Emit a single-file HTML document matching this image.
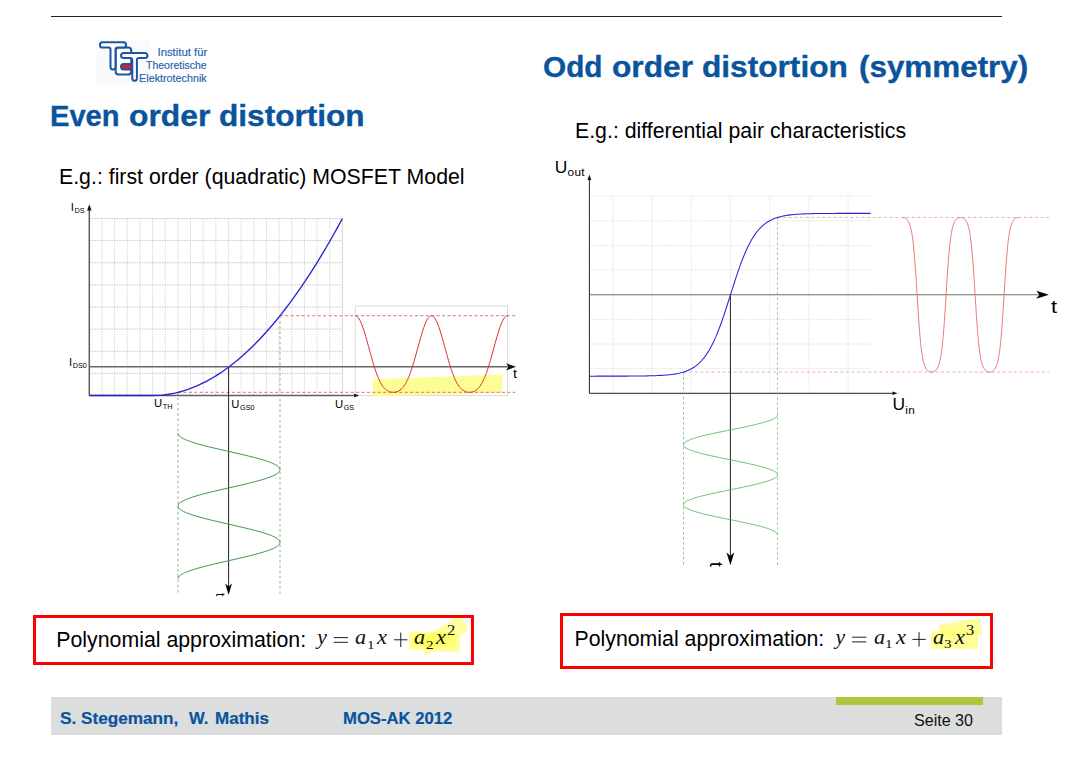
<!DOCTYPE html>
<html lang="en">
<head>
<meta charset="utf-8">
<title>Even / Odd order distortion</title>
<style>
html,body{margin:0;padding:0;background:#fff;}
body{width:1084px;height:763px;position:relative;overflow:hidden;font-family:"Liberation Sans",sans-serif;color:#000;font-variant-ligatures:none;}
.abs{position:absolute;white-space:nowrap;line-height:1;}
.topline{left:51px;top:15.5px;width:951px;height:1.3px;background:#222;}
.h1{font-weight:bold;color:#0a549e;-webkit-text-stroke:0.35px #0a549e;}
.sub{color:#000;}
.lbl{font-size:11.3px;color:#000;}
.lbl sub{font-size:7.3px;vertical-align:baseline;position:relative;top:2px;line-height:0;margin-left:0.6px;}
.lblr{font-size:17.4px;color:#000;}
.lblr sub{font-size:11.8px;vertical-align:baseline;position:relative;top:3.2px;line-height:0;letter-spacing:0.35px;margin-left:0.3px;}
.box{border:3px solid #f00;box-sizing:border-box;background:#fff;}
.poly{color:#000;}
.m{font-family:"Liberation Serif",serif;color:#111;}
.math{font-family:"Liberation Serif",serif;font-style:italic;font-size:23.5px;color:#111;}
.math .n{font-style:normal;}
.math sub{font-style:normal;font-size:15px;vertical-align:baseline;position:relative;top:3.6px;line-height:0;}
.math sup{font-style:normal;font-size:15px;vertical-align:baseline;position:relative;top:-9px;line-height:0;}
.footer{left:51px;top:697px;width:951px;height:37.5px;background:#dcdddd;}
.green{left:835.6px;top:697px;width:147.3px;height:7.8px;background:#afc73f;}
.ft{font-weight:bold;color:#0a549e;-webkit-text-stroke:0.2px #0a549e;}
.seite{color:#111;}
.lg{color:#2660ad;font-size:10.3px;-webkit-text-stroke:0.15px #2660ad;}
.logo-t{color:#1f5aa8;font-size:8.6px;text-align:right;line-height:9.6px;width:64px;}
</style>
</head>
<body>
<div class="abs topline"></div>

<!-- logo -->
<svg class="abs" style="left:0;top:0" width="260" height="95" viewBox="0 0 260 95">
<rect x="96" y="40.2" width="54" height="44.4" fill="#faf9fc"/>
<g fill="#fff" stroke="#1d55a3" stroke-width="2" stroke-linejoin="round">
<rect x="115.7" y="47.5" width="15.5" height="27" rx="2.8" ry="2.8"/>
<rect x="121" y="64" width="13" height="5.4" rx="2.7" fill="#e3192b"/>
<path d="M102.6 42.2H123.4A2.7 2.7 0 0 1 123.4 47.6H117.6Q115.5 47.6 115.5 49.7V66.9A2.5 2.5 0 0 1 110.5 66.9V49.7Q110.5 47.6 108.4 47.6H102.6A2.7 2.7 0 0 1 102.6 42.2Z"/>
<path d="M123.6 53H144.9A2.55 2.55 0 0 1 144.9 58.1H139Q136.9 58.1 136.9 60.2V78.5A2.3 2.3 0 0 1 132.3 78.5V60.2Q132.3 58.1 130.2 58.1H123.6A2.55 2.55 0 0 1 123.6 53Z"/>
</g>
</svg>
<div class="abs lg" style="right:876.8px;top:47.68px;transform:scaleX(1.10);transform-origin:100% 0">Institut für</div>
<div class="abs lg" style="right:877px;top:60.68px;transform:scaleX(1.015);transform-origin:100% 0">Theoretische</div>
<div class="abs lg" style="right:877px;top:73.78px;transform:scaleX(1.045);transform-origin:100% 0">Elektrotechnik</div>

<div class="abs h1" id="h1l1" style="left:49.9px;top:102.49px;font-size:28.6px;transform:scaleX(1.0180);transform-origin:0 0;">Even</div>
<div class="abs h1" id="h1l2" style="left:129.2px;top:102.49px;font-size:28.6px;transform:scaleX(1.1140);transform-origin:0 0;">order</div>
<div class="abs h1" id="h1l3" style="left:219.1px;top:102.49px;font-size:28.6px;transform:scaleX(1.1050);transform-origin:0 0;">distortion</div>
<div class="abs h1" id="h1r1" style="left:543.2px;top:53.29px;font-size:28.6px;transform:scaleX(1.0400);transform-origin:0 0;">Odd</div>
<div class="abs h1" id="h1r2" style="left:611.7px;top:53.29px;font-size:28.6px;transform:scaleX(1.1080);transform-origin:0 0;">order</div>
<div class="abs h1" id="h1r3" style="left:701.7px;top:53.29px;font-size:28.6px;transform:scaleX(1.1060);transform-origin:0 0;">distortion</div>
<div class="abs h1" id="h1r4" style="left:858.8px;top:53.29px;font-size:28.6px;transform:scaleX(1.0976);transform-origin:0 0;">(symmetry)</div>
<div class="abs sub" id="subl" style="left:59px;top:166.67px;font-size:21.3px;transform:scaleX(1.0000);transform-origin:0 0;">E.g.: first order (quadratic) MOSFET Model</div>
<div class="abs sub" id="subr" style="left:575px;top:120.87px;font-size:21.3px;transform:scaleX(1.0000);transform-origin:0 0;">E.g.: differential pair characteristics</div>

<svg class="abs" style="left:0;top:0" width="1084" height="763" viewBox="0 0 1084 763">
<path d="M101.95 218.5V395.5M114.61 218.5V395.5M127.26 218.5V395.5M139.92 218.5V395.5M152.57 218.5V395.5M165.23 218.5V395.5M177.88 218.5V395.5M190.54 218.5V395.5M203.19 218.5V395.5M215.85 218.5V395.5M228.5 218.5V395.5M241.16 218.5V395.5M253.81 218.5V395.5M266.47 218.5V395.5M279.12 218.5V395.5M291.78 218.5V395.5M304.43 218.5V395.5M317.09 218.5V395.5M329.74 218.5V395.5" stroke="#c6c6c6" stroke-width="0.75" stroke-dasharray="1.4 1.1" fill="none"/>
<path d="M89.3 218.5H342.4M89.3 240.62H342.4M89.3 262.75H342.4M89.3 284.88H342.4M89.3 307H342.4M89.3 329.12H342.4M89.3 351.25H342.4M89.3 373.38H342.4" stroke="#b4b4b4" stroke-width="0.8" stroke-dasharray="1.4 1.1" fill="none"/>
<path d="M342.4 218.5V395.5" stroke="#d6d6d6" stroke-width="1" fill="none"/>
<rect x="355.3" y="306" width="152.2" height="89.5" fill="none" stroke="#dcdcdc" stroke-width="1"/>
<polygon points="372.8,379.2 502.4,374.4 502.4,392.8 372.8,396.6" fill="#fdfd96"/>
<path d="M89.3 395.5V207" stroke="#5c5c5c" stroke-width="1.5" fill="none"/>
<path d="M89.3 204.2l-2.2 6.3h4.4z" fill="#111"/>
<path d="M89.3 395.5H356" stroke="#606060" stroke-width="1.4" fill="none"/>
<path d="M359.3 395.5l-5.2 -1.9v3.8z" fill="#222"/>
<path d="M89.3 366.81H510" stroke="#666" stroke-width="1.4" fill="none"/>
<path d="M516 366.81l-10 -3.6l2.6 3.6l-2.6 3.6z" fill="#111"/>
<path d="M280 315.74H515.5M178 392.32H515.5" stroke="#e06060" stroke-width="0.9" stroke-dasharray="3 2.4" fill="none"/>
<path d="M178 392.32V594M280 315.74V594" stroke="#7fa87f" stroke-width="0.9" stroke-dasharray="2.6 2.6" fill="none"/>
<path d="M228.6 366.81V589" stroke="#222" stroke-width="1" fill="none"/>
<path d="M228.6 594.9l-3.4 -11.3l3.4 3l3.4 -3z" fill="#000"/>
<path d="M89.3 395.5 L152.57 395.5 L155.74 395.45 L158.9 395.3 L162.07 395.06 L165.23 394.71 L168.39 394.27 L171.56 393.73 L174.72 393.09 L177.88 392.35 L181.05 391.52 L184.21 390.58 L187.38 389.55 L190.54 388.42 L193.7 387.19 L196.87 385.86 L200.03 384.44 L203.19 382.91 L206.36 381.29 L209.52 379.57 L212.69 377.75 L215.85 375.83 L219.01 373.82 L222.18 371.7 L225.34 369.49 L228.5 367.18 L231.67 364.77 L234.83 362.26 L238 359.66 L241.16 356.95 L244.32 354.15 L247.49 351.25 L250.65 348.25 L253.81 345.15 L256.98 341.96 L260.14 338.66 L263.31 335.27 L266.47 331.78 L269.63 328.19 L272.8 324.5 L275.96 320.72 L279.12 316.83 L282.29 312.85 L285.45 308.77 L288.62 304.59 L291.78 300.31 L294.94 295.94 L298.11 291.46 L301.27 286.89 L304.43 282.22 L307.6 277.45 L310.76 272.58 L313.93 267.62 L317.09 262.55 L320.25 257.39 L323.42 252.13 L326.58 246.77 L329.75 241.31 L332.91 235.76 L336.07 230.1 L339.24 224.35 L342.4 218.5" stroke="#2525d6" stroke-width="1.35" fill="none" stroke-linejoin="round"/>
<path d="M355.3 315.74 L356.25 315.94 L357.2 316.53 L358.15 317.5 L359.11 318.84 L360.06 320.53 L361.01 322.55 L361.96 324.87 L362.91 327.47 L363.86 330.3 L364.81 333.35 L365.76 336.55 L366.72 339.89 L367.67 343.31 L368.62 346.79 L369.57 350.28 L370.52 353.76 L371.47 357.17 L372.42 360.51 L373.37 363.73 L374.32 366.81 L375.28 369.74 L376.23 372.49 L377.18 375.05 L378.13 377.42 L379.08 379.59 L380.03 381.56 L380.98 383.33 L381.94 384.9 L382.89 386.29 L383.84 387.5 L384.79 388.54 L385.74 389.43 L386.69 390.17 L387.64 390.78 L388.59 391.28 L389.55 391.67 L390.5 391.96 L391.45 392.17 L392.4 392.29 L393.35 392.32 L394.3 392.29 L395.25 392.17 L396.2 391.96 L397.16 391.67 L398.11 391.28 L399.06 390.78 L400.01 390.17 L400.96 389.43 L401.91 388.54 L402.86 387.5 L403.81 386.29 L404.76 384.9 L405.72 383.33 L406.67 381.56 L407.62 379.59 L408.57 377.42 L409.52 375.05 L410.47 372.49 L411.42 369.74 L412.38 366.81 L413.33 363.73 L414.28 360.51 L415.23 357.17 L416.18 353.76 L417.13 350.28 L418.08 346.79 L419.03 343.31 L419.99 339.89 L420.94 336.55 L421.89 333.35 L422.84 330.3 L423.79 327.47 L424.74 324.87 L425.69 322.55 L426.64 320.53 L427.6 318.84 L428.55 317.5 L429.5 316.53 L430.45 315.94 L431.4 315.74 L432.35 315.94 L433.3 316.53 L434.25 317.5 L435.21 318.84 L436.16 320.53 L437.11 322.55 L438.06 324.87 L439.01 327.47 L439.96 330.3 L440.91 333.35 L441.86 336.55 L442.81 339.89 L443.77 343.31 L444.72 346.79 L445.67 350.28 L446.62 353.76 L447.57 357.17 L448.52 360.51 L449.47 363.73 L450.43 366.81 L451.38 369.74 L452.33 372.49 L453.28 375.05 L454.23 377.42 L455.18 379.59 L456.13 381.56 L457.08 383.33 L458.03 384.9 L458.99 386.29 L459.94 387.5 L460.89 388.54 L461.84 389.43 L462.79 390.17 L463.74 390.78 L464.69 391.28 L465.64 391.67 L466.6 391.96 L467.55 392.17 L468.5 392.29 L469.45 392.32 L470.4 392.29 L471.35 392.17 L472.3 391.96 L473.25 391.67 L474.21 391.28 L475.16 390.78 L476.11 390.17 L477.06 389.43 L478.01 388.54 L478.96 387.5 L479.91 386.29 L480.87 384.9 L481.82 383.33 L482.77 381.56 L483.72 379.59 L484.67 377.42 L485.62 375.05 L486.57 372.49 L487.52 369.74 L488.48 366.81 L489.43 363.73 L490.38 360.51 L491.33 357.17 L492.28 353.76 L493.23 350.28 L494.18 346.79 L495.13 343.31 L496.09 339.89 L497.04 336.55 L497.99 333.35 L498.94 330.3 L499.89 327.47 L500.84 324.87 L501.79 322.55 L502.74 320.53 L503.69 318.84 L504.65 317.5 L505.6 316.53 L506.55 315.94 L507.5 315.74" stroke="#d83030" stroke-width="1" fill="none" stroke-linejoin="round"/>
<path d="M178 433.3 L178.16 434.21 L178.63 435.12 L179.41 436.03 L180.5 436.94 L181.88 437.85 L183.56 438.76 L185.52 439.67 L187.74 440.57 L190.22 441.48 L192.94 442.39 L195.88 443.3 L199.02 444.21 L202.35 445.12 L205.85 446.03 L209.48 446.94 L213.24 447.85 L217.09 448.76 L221.02 449.67 L225 450.58 L229 451.49 L233 452.4 L236.98 453.31 L240.91 454.22 L244.76 455.12 L248.52 456.03 L252.15 456.94 L255.65 457.85 L258.98 458.76 L262.12 459.67 L265.06 460.58 L267.78 461.49 L270.26 462.4 L272.48 463.31 L274.44 464.22 L276.12 465.13 L277.5 466.04 L278.59 466.95 L279.37 467.86 L279.84 468.77 L280 469.68 L279.84 470.58 L279.37 471.49 L278.59 472.4 L277.5 473.31 L276.12 474.22 L274.44 475.13 L272.48 476.04 L270.26 476.95 L267.78 477.86 L265.06 478.77 L262.12 479.68 L258.98 480.59 L255.65 481.5 L252.15 482.41 L248.52 483.32 L244.76 484.22 L240.91 485.13 L236.98 486.04 L233 486.95 L229 487.86 L225 488.77 L221.02 489.68 L217.09 490.59 L213.24 491.5 L209.48 492.41 L205.85 493.32 L202.35 494.23 L199.02 495.14 L195.88 496.05 L192.94 496.96 L190.22 497.87 L187.74 498.77 L185.52 499.68 L183.56 500.59 L181.88 501.5 L180.5 502.41 L179.41 503.32 L178.63 504.23 L178.16 505.14 L178 506.05 L178.16 506.96 L178.63 507.87 L179.41 508.78 L180.5 509.69 L181.88 510.6 L183.56 511.51 L185.52 512.42 L187.74 513.32 L190.22 514.23 L192.94 515.14 L195.88 516.05 L199.02 516.96 L202.35 517.87 L205.85 518.78 L209.48 519.69 L213.24 520.6 L217.09 521.51 L221.02 522.42 L225 523.33 L229 524.24 L233 525.15 L236.98 526.06 L240.91 526.97 L244.76 527.88 L248.52 528.78 L252.15 529.69 L255.65 530.6 L258.98 531.51 L262.12 532.42 L265.06 533.33 L267.78 534.24 L270.26 535.15 L272.48 536.06 L274.44 536.97 L276.12 537.88 L277.5 538.79 L278.59 539.7 L279.37 540.61 L279.84 541.52 L280 542.42 L279.84 543.33 L279.37 544.24 L278.59 545.15 L277.5 546.06 L276.12 546.97 L274.44 547.88 L272.48 548.79 L270.26 549.7 L267.78 550.61 L265.06 551.52 L262.12 552.43 L258.98 553.34 L255.65 554.25 L252.15 555.16 L248.52 556.07 L244.76 556.97 L240.91 557.88 L236.98 558.79 L233 559.7 L229 560.61 L225 561.52 L221.02 562.43 L217.09 563.34 L213.24 564.25 L209.48 565.16 L205.85 566.07 L202.35 566.98 L199.02 567.89 L195.88 568.8 L192.94 569.71 L190.22 570.62 L187.74 571.52 L185.52 572.43 L183.56 573.34 L181.88 574.25 L180.5 575.16 L179.41 576.07 L178.63 576.98 L178.16 577.89 L178 578.8" stroke="#3f9a4a" stroke-width="1" fill="none" stroke-linejoin="round"/>
<path d="M612.9 196.2V393.3M652.1 196.2V393.3M691.3 196.2V393.3M730.5 196.2V393.3M769.7 196.2V393.3M808.9 196.2V393.3M848.1 196.2V393.3M589.4 196.2H870.7M589.4 220.84H870.7M589.4 245.47H870.7M589.4 270.11H870.7M589.4 294.75H870.7M589.4 319.39H870.7M589.4 344.02H870.7M589.4 368.66H870.7" stroke="#d2d2d2" stroke-width="0.8" stroke-dasharray="1 1.2" fill="none"/>
<path d="M589.4 393.3V178" stroke="#222" stroke-width="1" fill="none"/>
<path d="M589.4 174.4l-1.9 5.6h3.8z" fill="#111"/>
<path d="M589.4 393.3H894" stroke="#222" stroke-width="1" fill="none"/>
<path d="M897.5 393.3l-5 -1.7v3.4z" fill="#111"/>
<path d="M589.4 294.75H1040" stroke="#6a6a6a" stroke-width="0.95" fill="none"/>
<path d="M1048.9 294.75l-12.7 -3.9l3.3 3.9l-3.3 3.9z" fill="#000"/>
<path d="M777.5 217.44H1049M683.5 372.06H1049" stroke="#f5a0a0" stroke-width="0.9" stroke-dasharray="3 2.6" fill="none"/>
<path d="M683.5 372.06V567M777.5 217.44V567" stroke="#74bb74" stroke-width="0.8" stroke-dasharray="2.4 2.6" fill="none"/>
<path d="M730.4 294.75V558" stroke="#222" stroke-width="1" fill="none"/>
<path d="M730.4 565.2l-3.9 -12.7l3.9 3.3l3.9 -3.3z" fill="#000"/>
<path d="M589.4 376.15 L591.41 376.15 L593.42 376.15 L595.43 376.15 L597.44 376.14 L599.45 376.14 L601.46 376.14 L603.47 376.14 L605.47 376.14 L607.48 376.14 L609.49 376.14 L611.5 376.13 L613.51 376.13 L615.52 376.13 L617.53 376.13 L619.54 376.12 L621.55 376.12 L623.56 376.11 L625.57 376.1 L627.58 376.1 L629.59 376.09 L631.6 376.08 L633.6 376.06 L635.61 376.05 L637.62 376.03 L639.63 376.01 L641.64 375.99 L643.65 375.96 L645.66 375.93 L647.67 375.89 L649.68 375.85 L651.69 375.8 L653.7 375.74 L655.71 375.67 L657.72 375.59 L659.73 375.49 L661.73 375.38 L663.74 375.25 L665.75 375.1 L667.76 374.93 L669.77 374.72 L671.78 374.48 L673.79 374.2 L675.8 373.88 L677.81 373.5 L679.82 373.06 L681.83 372.54 L683.84 371.95 L685.85 371.26 L687.86 370.46 L689.86 369.54 L691.87 368.47 L693.88 367.24 L695.89 365.83 L697.9 364.21 L699.91 362.37 L701.92 360.26 L703.93 357.87 L705.94 355.18 L707.95 352.15 L709.96 348.77 L711.97 345.02 L713.98 340.9 L715.99 336.39 L717.99 331.5 L720 326.26 L722.01 320.7 L724.02 314.84 L726.03 308.76 L728.04 302.52 L730.05 296.18 L732.06 289.82 L734.07 283.52 L736.08 277.36 L738.09 271.39 L740.1 265.69 L742.11 260.3 L744.12 255.25 L746.12 250.58 L748.13 246.28 L750.14 242.36 L752.15 238.82 L754.16 235.64 L756.17 232.8 L758.18 230.27 L760.19 228.04 L762.2 226.08 L764.21 224.37 L766.22 222.86 L768.23 221.56 L770.24 220.42 L772.25 219.43 L774.25 218.58 L776.26 217.85 L778.27 217.21 L780.28 216.66 L782.29 216.19 L784.3 215.79 L786.31 215.44 L788.32 215.14 L790.33 214.88 L792.34 214.66 L794.35 214.47 L796.36 214.31 L798.37 214.17 L800.38 214.05 L802.38 213.95 L804.39 213.87 L806.4 213.79 L808.41 213.73 L810.42 213.67 L812.43 213.63 L814.44 213.59 L816.45 213.55 L818.46 213.52 L820.47 213.5 L822.48 213.48 L824.49 213.46 L826.5 213.44 L828.51 213.43 L830.51 213.42 L832.52 213.41 L834.53 213.4 L836.54 213.39 L838.55 213.39 L840.56 213.38 L842.57 213.38 L844.58 213.37 L846.59 213.37 L848.6 213.37 L850.61 213.36 L852.62 213.36 L854.63 213.36 L856.63 213.36 L858.64 213.36 L860.65 213.36 L862.66 213.36 L864.67 213.35 L866.68 213.35 L868.69 213.35 L870.7 213.35" stroke="#2626d9" stroke-width="1.05" fill="none" stroke-linejoin="round"/>
<path d="M902.6 217.44 L903.18 217.47 L903.76 217.56 L904.34 217.71 L904.92 217.93 L905.5 218.22 L906.08 218.6 L906.66 219.09 L907.24 219.69 L907.82 220.45 L908.4 221.38 L908.98 222.52 L909.56 223.93 L910.14 225.66 L910.72 227.77 L911.3 230.34 L911.88 233.45 L912.46 237.21 L913.04 241.68 L913.62 246.96 L914.2 253.09 L914.78 260.09 L915.36 267.9 L915.94 276.41 L916.52 285.44 L917.1 294.75 L917.68 304.06 L918.26 313.09 L918.84 321.6 L919.42 329.41 L920 336.41 L920.58 342.54 L921.16 347.82 L921.74 352.29 L922.32 356.05 L922.9 359.16 L923.48 361.73 L924.06 363.84 L924.64 365.57 L925.22 366.98 L925.8 368.12 L926.38 369.05 L926.96 369.81 L927.54 370.41 L928.12 370.9 L928.7 371.28 L929.28 371.57 L929.86 371.79 L930.44 371.94 L931.02 372.03 L931.6 372.06 L932.18 372.03 L932.76 371.94 L933.34 371.79 L933.92 371.57 L934.5 371.28 L935.08 370.9 L935.66 370.41 L936.24 369.81 L936.82 369.05 L937.4 368.12 L937.98 366.98 L938.56 365.57 L939.14 363.84 L939.72 361.73 L940.3 359.16 L940.88 356.05 L941.46 352.29 L942.04 347.82 L942.62 342.54 L943.2 336.41 L943.78 329.41 L944.36 321.6 L944.94 313.09 L945.52 304.06 L946.1 294.75 L946.68 285.44 L947.26 276.41 L947.84 267.9 L948.42 260.09 L949 253.09 L949.58 246.96 L950.16 241.68 L950.74 237.21 L951.32 233.45 L951.9 230.34 L952.48 227.77 L953.06 225.66 L953.64 223.93 L954.22 222.52 L954.8 221.38 L955.38 220.45 L955.96 219.69 L956.54 219.09 L957.12 218.6 L957.7 218.22 L958.28 217.93 L958.86 217.71 L959.44 217.56 L960.02 217.47 L960.6 217.44 L961.18 217.47 L961.76 217.56 L962.34 217.71 L962.92 217.93 L963.5 218.22 L964.08 218.6 L964.66 219.09 L965.24 219.69 L965.82 220.45 L966.4 221.38 L966.98 222.52 L967.56 223.93 L968.14 225.66 L968.72 227.77 L969.3 230.34 L969.88 233.45 L970.46 237.21 L971.04 241.68 L971.62 246.96 L972.2 253.09 L972.78 260.09 L973.36 267.9 L973.94 276.41 L974.52 285.44 L975.1 294.75 L975.68 304.06 L976.26 313.09 L976.84 321.6 L977.42 329.41 L978 336.41 L978.58 342.54 L979.16 347.82 L979.74 352.29 L980.32 356.05 L980.9 359.16 L981.48 361.73 L982.06 363.84 L982.64 365.57 L983.22 366.98 L983.8 368.12 L984.38 369.05 L984.96 369.81 L985.54 370.41 L986.12 370.9 L986.7 371.28 L987.28 371.57 L987.86 371.79 L988.44 371.94 L989.02 372.03 L989.6 372.06 L990.18 372.03 L990.76 371.94 L991.34 371.79 L991.92 371.57 L992.5 371.28 L993.08 370.9 L993.66 370.41 L994.24 369.81 L994.82 369.05 L995.4 368.12 L995.98 366.98 L996.56 365.57 L997.14 363.84 L997.72 361.73 L998.3 359.16 L998.88 356.05 L999.46 352.29 L1000.04 347.82 L1000.62 342.54 L1001.2 336.41 L1001.78 329.41 L1002.36 321.6 L1002.94 313.09 L1003.52 304.06 L1004.1 294.75 L1004.68 285.44 L1005.26 276.41 L1005.84 267.9 L1006.42 260.09 L1007 253.09 L1007.58 246.96 L1008.16 241.68 L1008.74 237.21 L1009.32 233.45 L1009.9 230.34 L1010.48 227.77 L1011.06 225.66 L1011.64 223.93 L1012.22 222.52 L1012.8 221.38 L1013.38 220.45 L1013.96 219.69 L1014.54 219.09 L1015.12 218.6 L1015.7 218.22 L1016.28 217.93 L1016.86 217.71 L1017.44 217.56 L1018.02 217.47 L1018.6 217.44" stroke="#ee6a6a" stroke-width="0.9" fill="none" stroke-linejoin="round"/>
<path d="M777.5 414.9 L777.41 415.5 L777.13 416.1 L776.67 416.7 L776.02 417.3 L775.2 417.89 L774.2 418.49 L773.03 419.09 L771.69 419.69 L770.18 420.29 L768.52 420.89 L766.71 421.49 L764.76 422.09 L762.67 422.69 L760.46 423.29 L758.13 423.88 L755.68 424.48 L753.14 425.08 L750.51 425.68 L747.8 426.28 L745.02 426.88 L742.19 427.48 L739.31 428.08 L736.39 428.68 L733.45 429.28 L730.5 429.88 L727.55 430.47 L724.61 431.07 L721.69 431.67 L718.81 432.27 L715.98 432.87 L713.2 433.47 L710.49 434.07 L707.86 434.67 L705.32 435.27 L702.87 435.87 L700.54 436.46 L698.33 437.06 L696.24 437.66 L694.29 438.26 L692.48 438.86 L690.82 439.46 L689.31 440.06 L687.97 440.66 L686.8 441.26 L685.8 441.86 L684.98 442.45 L684.33 443.05 L683.87 443.65 L683.59 444.25 L683.5 444.85 L683.59 445.45 L683.87 446.05 L684.33 446.65 L684.98 447.25 L685.8 447.85 L686.8 448.44 L687.97 449.04 L689.31 449.64 L690.82 450.24 L692.48 450.84 L694.29 451.44 L696.24 452.04 L698.33 452.64 L700.54 453.24 L702.87 453.83 L705.32 454.43 L707.86 455.03 L710.49 455.63 L713.2 456.23 L715.98 456.83 L718.81 457.43 L721.69 458.03 L724.61 458.63 L727.55 459.23 L730.5 459.82 L733.45 460.42 L736.39 461.02 L739.31 461.62 L742.19 462.22 L745.02 462.82 L747.8 463.42 L750.51 464.02 L753.14 464.62 L755.68 465.22 L758.13 465.81 L760.46 466.41 L762.67 467.01 L764.76 467.61 L766.71 468.21 L768.52 468.81 L770.18 469.41 L771.69 470.01 L773.03 470.61 L774.2 471.21 L775.2 471.81 L776.02 472.4 L776.67 473 L777.13 473.6 L777.41 474.2 L777.5 474.8 L777.41 475.4 L777.13 476 L776.67 476.6 L776.02 477.2 L775.2 477.8 L774.2 478.39 L773.03 478.99 L771.69 479.59 L770.18 480.19 L768.52 480.79 L766.71 481.39 L764.76 481.99 L762.67 482.59 L760.46 483.19 L758.13 483.79 L755.68 484.38 L753.14 484.98 L750.51 485.58 L747.8 486.18 L745.02 486.78 L742.19 487.38 L739.31 487.98 L736.39 488.58 L733.45 489.18 L730.5 489.78 L727.55 490.37 L724.61 490.97 L721.69 491.57 L718.81 492.17 L715.98 492.77 L713.2 493.37 L710.49 493.97 L707.86 494.57 L705.32 495.17 L702.87 495.77 L700.54 496.36 L698.33 496.96 L696.24 497.56 L694.29 498.16 L692.48 498.76 L690.82 499.36 L689.31 499.96 L687.97 500.56 L686.8 501.16 L685.8 501.76 L684.98 502.35 L684.33 502.95 L683.87 503.55 L683.59 504.15 L683.5 504.75 L683.59 505.35 L683.87 505.95 L684.33 506.55 L684.98 507.15 L685.8 507.75 L686.8 508.34 L687.97 508.94 L689.31 509.54 L690.82 510.14 L692.48 510.74 L694.29 511.34 L696.24 511.94 L698.33 512.54 L700.54 513.14 L702.87 513.74 L705.32 514.33 L707.86 514.93 L710.49 515.53 L713.2 516.13 L715.98 516.73 L718.81 517.33 L721.69 517.93 L724.61 518.53 L727.55 519.13 L730.5 519.73 L733.45 520.32 L736.39 520.92 L739.31 521.52 L742.19 522.12 L745.02 522.72 L747.8 523.32 L750.51 523.92 L753.14 524.52 L755.68 525.12 L758.13 525.72 L760.46 526.31 L762.67 526.91 L764.76 527.51 L766.71 528.11 L768.52 528.71 L770.18 529.31 L771.69 529.91 L773.03 530.51 L774.2 531.11 L775.2 531.71 L776.02 532.3 L776.67 532.9 L777.13 533.5 L777.41 534.1 L777.5 534.7" stroke="#5fb86a" stroke-width="0.9" fill="none" stroke-linejoin="round"/>
</svg>

<!-- chart labels -->
<div class="abs lbl" style="left:70.7px;top:201.73px">I<sub>DS</sub></div>
<div class="abs lbl" style="left:69.0px;top:357.43px">I<sub>DS0</sub></div>
<div class="abs lbl" style="left:154.1px;top:397.83px">U<sub>TH</sub></div>
<div class="abs lbl" style="left:231.2px;top:399.23px">U<sub>GS0</sub></div>
<div class="abs lbl" style="left:334.9px;top:398.53px">U<sub>GS</sub></div>
<div class="abs" style="left:513.2px;top:367.73px;font-size:12.6px;color:#000;transform:scaleX(1.15);transform-origin:0 0">t</div>
<div class="abs" style="left:210px;top:586px;height:11.1px;width:20px;overflow:hidden"><div style="font-size:12.2px;transform:rotate(90deg);transform-origin:0 0;position:absolute;left:16.3px;top:6.6px;line-height:1;color:#000">t</div></div>

<div class="abs lblr" style="left:554.7px;top:159.07px">U<sub>out</sub></div>
<div class="abs lblr" style="left:892.4px;top:396.47px">U<sub>in</sub></div>
<div class="abs" style="left:1050.9px;top:298.79px;font-size:17.5px;color:#000;transform:scaleX(1.25);transform-origin:0 0">t</div>
<div class="abs" style="left:700px;top:556px;height:12.3px;width:30px;overflow:hidden"><div style="font-size:17.5px;transform:rotate(90deg);transform-origin:0 0;position:absolute;left:24.3px;top:5.8px;line-height:1;color:#000">t</div></div>

<!-- polynomial boxes -->
<div class="abs box" style="left:32.5px;top:614.5px;width:441.8px;height:50.8px"></div>
<svg class="abs" style="left:0;top:0" width="1084" height="763"><g fill="#ffff55" fill-opacity="0.55"><polygon points="409.1,631.8 436,631.4 460.6,635.6 459.8,652.8 408.6,649.2"/><polygon points="425.7,655.7 468.9,630 462.2,618.3 454.8,618.3 421.5,639.1"/><polygon points="411.5,633.4 456.5,633 456,646.5 411.5,646.8"/></g></svg>
<div class="abs poly" id="pl" style="left:56.3px;top:629.67px;font-size:21.3px;transform:scaleX(1.0000);transform-origin:0 0;">Polynomial approximation:</div>
<div class="abs m" style="left:317.24px;top:627.21px;font-size:21.6px;font-style:italic;transform:scaleX(1.0);transform-origin:0 0">y</div>
<div class="abs m" style="left:355.36px;top:627.21px;font-size:21.6px;font-style:italic;transform:scaleX(1.03);transform-origin:0 0">a</div>
<div class="abs m" style="left:366.99px;top:638.85px;font-size:12.6px;font-style:normal;transform:scaleX(1.2);transform-origin:0 0">1</div>
<div class="abs m" style="left:377.35px;top:627.21px;font-size:21.6px;font-style:italic;transform:scaleX(1.04);transform-origin:0 0">x</div>
<div class="abs m" style="left:414.26px;top:627.21px;font-size:21.6px;font-style:italic;transform:scaleX(1.03);transform-origin:0 0">a</div>
<div class="abs m" style="left:425.9px;top:638.85px;font-size:12.6px;font-style:normal;transform:scaleX(1.2);transform-origin:0 0">2</div>
<div class="abs m" style="left:436.45px;top:627.21px;font-size:21.6px;font-style:italic;transform:scaleX(1.04);transform-origin:0 0">x</div>
<div class="abs m" style="left:447.44px;top:623.24px;font-size:14.4px;font-style:normal;transform:scaleX(1.15);transform-origin:0 0">2</div>
<svg class="abs" style="left:0;top:0" width="1084" height="763"><path d="M333.8 637.6H348M333.8 642.3H348M394.1 639.8H407.4M400.75 632.6V647" stroke="#111" stroke-width="0.95" fill="none"/></svg>

<div class="abs box" style="left:559.5px;top:612.5px;width:433.6px;height:56.5px"></div>
<svg class="abs" style="left:0;top:0" width="1084" height="763"><g fill="#ffff55" fill-opacity="0.6"><rect x="931" y="631.2" width="47.1" height="17.7"/><polygon points="938.6,625 979.3,617.9 982.2,634.1 940.3,636.7"/></g></svg>
<div class="abs poly" id="pr" style="left:574.5px;top:628.57px;font-size:21.3px;transform:scaleX(1.0000);transform-origin:0 0;">Polynomial approximation:</div>
<div class="abs m" style="left:835.54px;top:626.81px;font-size:21.6px;font-style:italic;transform:scaleX(1.0);transform-origin:0 0">y</div>
<div class="abs m" style="left:873.66px;top:626.81px;font-size:21.6px;font-style:italic;transform:scaleX(1.03);transform-origin:0 0">a</div>
<div class="abs m" style="left:885.29px;top:638.45px;font-size:12.6px;font-style:normal;transform:scaleX(1.2);transform-origin:0 0">1</div>
<div class="abs m" style="left:895.65px;top:626.81px;font-size:21.6px;font-style:italic;transform:scaleX(1.04);transform-origin:0 0">x</div>
<div class="abs m" style="left:932.56px;top:626.81px;font-size:21.6px;font-style:italic;transform:scaleX(1.03);transform-origin:0 0">a</div>
<div class="abs m" style="left:944.2px;top:638.45px;font-size:12.6px;font-style:normal;transform:scaleX(1.2);transform-origin:0 0">3</div>
<div class="abs m" style="left:954.75px;top:626.81px;font-size:21.6px;font-style:italic;transform:scaleX(1.04);transform-origin:0 0">x</div>
<div class="abs m" style="left:965.74px;top:622.84px;font-size:14.4px;font-style:normal;transform:scaleX(1.15);transform-origin:0 0">3</div>
<svg class="abs" style="left:0;top:0" width="1084" height="763"><path d="M852.1 637.2H866.3M852.1 641.9H866.3M912.4 639.4H925.7M919.05 632.2V646.6" stroke="#111" stroke-width="0.95" fill="none"/></svg>

<!-- footer -->
<div class="abs footer"></div>
<div class="abs green"></div>
<div class="abs ft" id="f1a" style="left:60px;top:710.75px;font-size:16.6px;transform:scaleX(1.0500);transform-origin:0 0;">S.</div>
<div class="abs ft" id="f1b" style="left:81.2px;top:710.75px;font-size:16.6px;transform:scaleX(1.0350);transform-origin:0 0;">Stegemann,</div>
<div class="abs ft" id="f1c" style="left:189px;top:710.75px;font-size:16.6px;transform:scaleX(1.0000);transform-origin:0 0;">W.</div>
<div class="abs ft" id="f1d" style="left:215.2px;top:710.75px;font-size:16.6px;transform:scaleX(1.0250);transform-origin:0 0;">Mathis</div>
<div class="abs ft" id="f2" style="left:343px;top:710.75px;font-size:16.6px;transform:scaleX(1.0050);transform-origin:0 0;">MOS-AK 2012</div>
<div class="abs seite" id="f3" style="left:913.7px;top:712.21px;font-size:17px;transform:scaleX(0.9460);transform-origin:0 0;">Seite 30</div>
</body>
</html>
